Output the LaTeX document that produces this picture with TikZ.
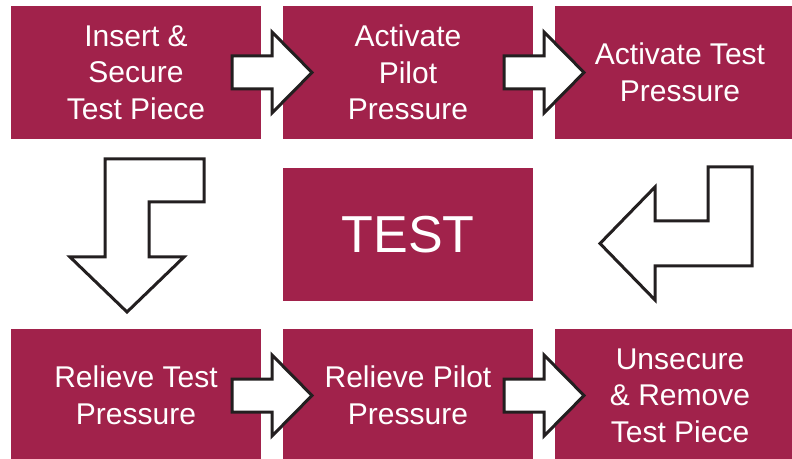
\documentclass[tikz,border=0pt]{standalone}
\usepackage{fontspec}
\setmainfont{Liberation Sans}
\usepackage{tikz}
\usetikzlibrary{calc}

\definecolor{stepred}{RGB}{161,34,75}
\definecolor{arrowgrey}{RGB}{35,31,32}

\begin{document}
\begin{tikzpicture}[x=0.75pt,y=-0.75pt,
	stepbox/.style={rectangle,fill=stepred,text=white,inner sep=0pt,minimum width=187.5pt,minimum height=99.75pt,align=center,font=\fontsize{22.5}{27.4}\selectfont},
	arrowline/.style={draw=arrowgrey,fill=white,line width=2.25pt,line join=miter},
	rarrow/.pic={\path[arrowline] (-40,-16.5) -- (0,-16.5) -- (0,-40.5) -- (40,0) -- (0,40.5) -- (0,16.5) -- (-40,16.5) -- cycle;}]
		\useasboundingbox (0,0) rectangle (792,459);
		\clip (0,0) rectangle (792,459);

		\node[stepbox] (A) at (136,72.5){Insert \&\\Secure\\Test Piece};
		\node[stepbox] (B) at (408,72.5){Activate\\Pilot\\Pressure};
		\node[stepbox] (C) at (680,72.5){Activate Test\\Pressure};
		\node[stepbox,font=\fontsize{39}{47}\selectfont] (T) at (408,234.5){TEST};
		\node[stepbox] (D) at (136,395.5){Relieve Test\\Pressure};
		\node[stepbox] (E) at (408,395.5){Relieve Pilot\\Pressure};
		\node[stepbox] (F) at (680,395.5){Unsecure\\\& Remove\\Test Piece};

		\pic at ($(A.east)!0.5!(B.west)$) {rarrow};
		\pic at ($(B.east)!0.5!(C.west)$) {rarrow};
		\pic at ($(D.east)!0.5!(E.west)$) {rarrow};
		\pic at ($(E.east)!0.5!(F.west)$) {rarrow};

		% bent arrows round the TEST box
		\path[arrowline] (105,159) -- (204,159) -- (204,202) -- (149,202) -- (149,257) -- (184,257) -- (127,312) -- (70,257) -- (105,257) -- cycle;
		\path[arrowline] (708,167) -- (752,167) -- (752,266) -- (655,266) -- (655,300) -- (600,243.5) -- (655,187) -- (655,221) -- (708,221) -- cycle;
\end{tikzpicture}
\end{document}
